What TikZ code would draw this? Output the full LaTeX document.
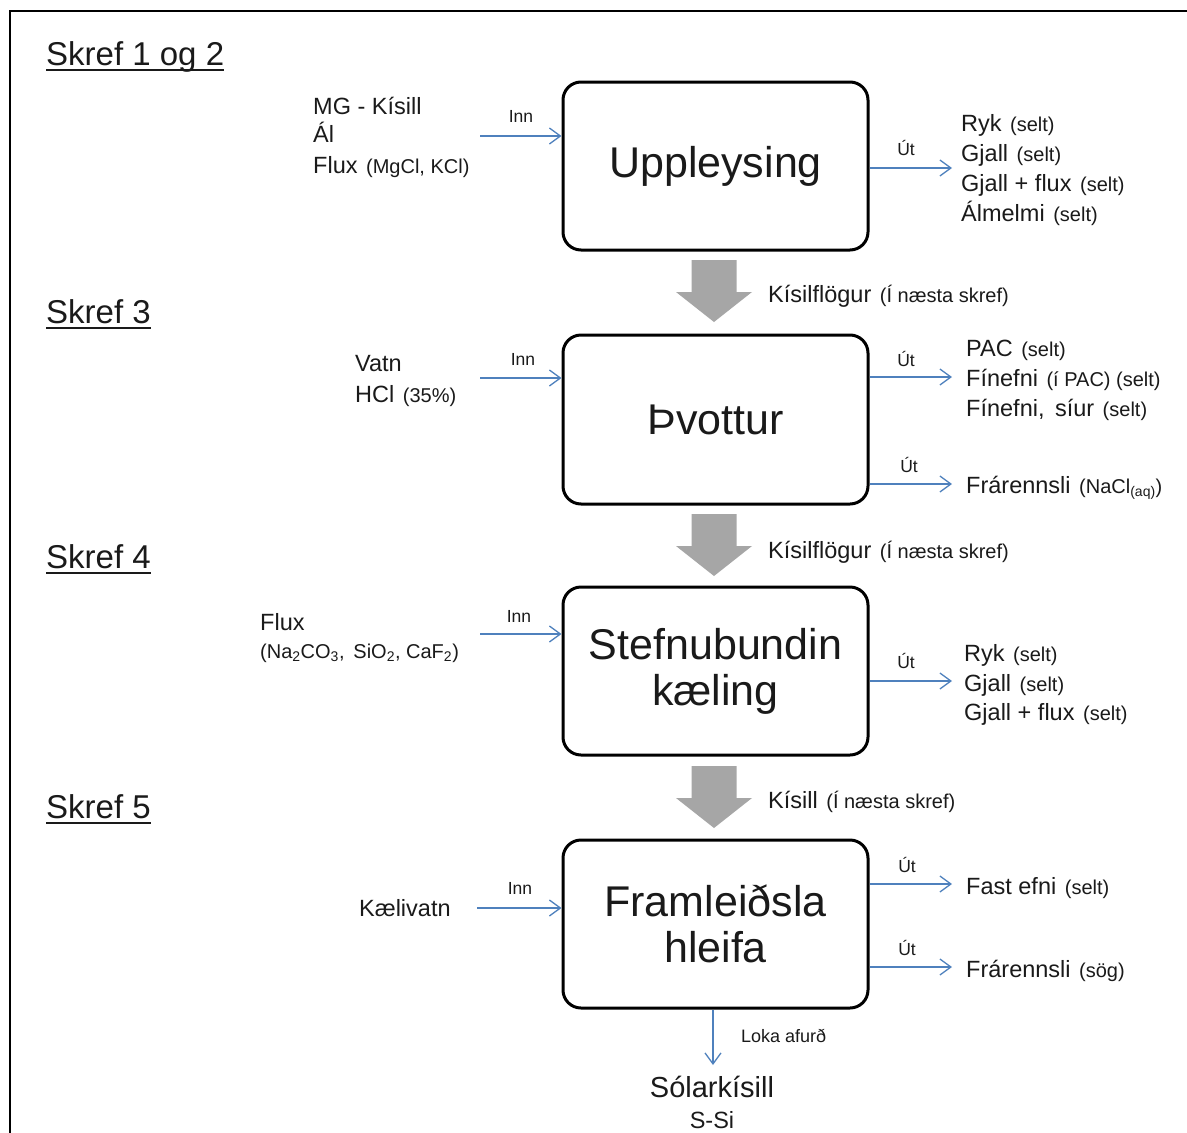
\documentclass[tikz,border=0pt]{standalone}
\usepackage{fontspec}
\setmainfont{Liberation Sans}
\usetikzlibrary{arrows.meta,calc}
\definecolor{flowblue}{RGB}{79,129,189}
\definecolor{arrgray}{RGB}{166,166,166}
\definecolor{txt}{RGB}{26,26,26}
\newcommand{\smtxt}[1]{\hspace{2pt}{\fontsize{20}{23}\selectfont #1}}
\newcommand{\grarrow}[2]{\begin{scope}[shift={(#1,#2)}]\fill[arrgray] (-22.5,0) -- (22.5,0) -- (22.5,32) -- (38,32) -- (0,62) -- (-38,32) -- (-22.5,32) -- cycle;\end{scope}}
\tikzset{
  procbox/.style={draw=black, line width=3pt, rounded corners=18pt, minimum width=305pt, minimum height=168pt, align=center, font=\fontsize{43}{46}\selectfont, text=txt, inner sep=0pt},
  tx/.style={anchor=base west, inner sep=0pt, text=txt, font=\fontsize{23.5}{27}\selectfont},
  tc/.style={anchor=base, inner sep=0pt, text=txt},
  lab/.style={anchor=base, inner sep=0pt, text=txt, font=\fontsize{17.5}{20}\selectfont},
  head/.style={anchor=base west, inner sep=0pt, text=txt, font=\fontsize{33}{37}\selectfont},
  flow/.style={draw=flowblue, line width=1.4pt, -{Straight Barb[length=11pt,width=16pt,line width=1.3pt]}},
  uline/.style={draw=txt, line width=2pt}
}
\begin{document}
\begin{tikzpicture}[x=1pt,y=-1pt]
\useasboundingbox (0,0) rectangle (1187,1133);
\clip (0,0) rectangle (1187,1133);
\fill[white] (0,0) rectangle (1187,1133);
% frame
\draw[line width=2pt, black] (10,1150) -- (10,11) -- (1200,11);

% section headings
\node[head] (h1) at (46,65) {Skref 1 og 2};
\draw[uline] ($(h1.base west)+(0,5)$) -- ($(h1.base east)+(0,5)$);
\node[head] (h2) at (46,323) {Skref 3};
\draw[uline] ($(h2.base west)+(0,5)$) -- ($(h2.base east)+(0,5)$);
\node[head] (h3) at (46,568) {Skref 4};
\draw[uline] ($(h3.base west)+(0,5)$) -- ($(h3.base east)+(0,5)$);
\node[head] (h4) at (46,818) {Skref 5};
\draw[uline] ($(h4.base west)+(0,5)$) -- ($(h4.base east)+(0,5)$);

% boxes
\node[procbox] (b1) at (715.5,166) {Uppleysing};
\node[procbox, minimum height=169pt] (b2) at (715.5,419.5) {Þvottur};
\node[procbox] (b3) at (715.5,671) {Stefnubundin\\kæling};
\node[procbox] (b4) at (715.5,924) {Framleiðsla\\hleifa};

% gray block arrows
\grarrow{714}{260}
\grarrow{714}{514}
\grarrow{714}{766}
\node[tx] (k1) at (768,302) {Kísilflögur \smtxt{(Í næsta skref)}};
\node[tx] (k2) at (768,558) {Kísilflögur \smtxt{(Í næsta skref)}};
\node[tx] (k3) at (768,808) {Kísill \smtxt{(Í næsta skref)}};

% ---- step 1/2
\node[tx] (i1a) at (313,114) {MG - Kísill};
\node[tx] (i1b) at (313,142) {Ál};
\node[tx] (i1c) at (313,173) {Flux \smtxt{(MgCl, KCl)}};
\coordinate (in1) at (480,136);
\draw[flow] (in1) -- (in1 -| b1.west);
\node[lab] (inn1) at (521,122) {Inn};
\coordinate (o1) at (952,168);
\draw[flow] (o1 -| b1.east) -- (o1);
\node[lab] (ut1) at (906,155) {Út};
\node[tx] (r1a) at (961,131) {Ryk \smtxt{(selt)}};
\node[tx] (r1b) at (961,161) {Gjall \smtxt{(selt)}};
\node[tx] (r1c) at (961,191) {Gjall + flux \smtxt{(selt)}};
\node[tx] (r1d) at (961,221) {Álmelmi \smtxt{(selt)}};

% ---- step 3
\node[tx] (i2a) at (355,371) {Vatn};
\node[tx] (i2b) at (355,402) {HCl \smtxt{(35\%)}};
\coordinate (in2) at (480,378);
\draw[flow] (in2) -- (in2 -| b2.west);
\node[lab] (inn2) at (523,365) {Inn};
\coordinate (o2) at (952,377);
\draw[flow] (o2 -| b2.east) -- (o2);
\node[lab] (ut2) at (906,366) {Út};
\node[tx] (r2a) at (966,356) {PAC \smtxt{(selt)}};
\node[tx] (r2b) at (966,386) {Fínefni \smtxt{(í PAC) (selt)}};
\node[tx] (r2c) at (966,416) {Fínefni,\, síur \smtxt{(selt)}};
\coordinate (o2b) at (952,484);
\draw[flow] (o2b -| b2.east) -- (o2b);
\node[lab] (ut2b) at (909,472) {Út};
\node[tx] (r2d) at (966,493) {Frárennsli \smtxt{(NaCl\textsubscript{(aq)})}};

% ---- step 4
\node[tx] (i3a) at (260,630) {Flux};
\node[tx, font=\fontsize{20}{23}\selectfont] (i3b) at (260,658) {(Na\textsubscript{2}CO\textsubscript{3},\, SiO\textsubscript{2}, CaF\textsubscript{2})};
\coordinate (in3) at (480,634);
\draw[flow] (in3) -- (in3 -| b3.west);
\node[lab] (inn3) at (519,622) {Inn};
\coordinate (o3) at (952,681);
\draw[flow] (o3 -| b3.east) -- (o3);
\node[lab] (ut3) at (906,668) {Út};
\node[tx] (r3a) at (964,661) {Ryk \smtxt{(selt)}};
\node[tx] (r3b) at (964,691) {Gjall \smtxt{(selt)}};
\node[tx] (r3c) at (964,720) {Gjall + flux \smtxt{(selt)}};

% ---- step 5
\node[tx] (i4a) at (359,916) {Kælivatn};
\coordinate (in4) at (477,908);
\draw[flow] (in4) -- (in4 -| b4.west);
\node[lab] (inn4) at (520,894) {Inn};
\coordinate (o4) at (952,884);
\draw[flow] (o4 -| b4.east) -- (o4);
\node[lab] (ut4) at (907,872) {Út};
\node[tx] (r4a) at (966,894) {Fast efni \smtxt{(selt)}};
\coordinate (o4b) at (952,967);
\draw[flow] (o4b -| b4.east) -- (o4b);
\node[lab] (ut4b) at (907,955) {Út};
\node[tx] (r4b) at (966,977) {Frárennsli \smtxt{(sög)}};

% final product
\coordinate (fin) at (713,1065);
\draw[flow] (fin |- b4.south) -- (fin);
\node[lab, anchor=base west, font=\fontsize{18}{21}\selectfont] (loka) at (741,1042) {Loka afurð};
\node[tc, font=\fontsize{29}{33}\selectfont] (sol) at (712,1097) {Sólarkísill};
\node[tc, font=\fontsize{23.5}{27}\selectfont] (ssi) at (712,1128) {S-Si};
\end{tikzpicture}
\end{document}
